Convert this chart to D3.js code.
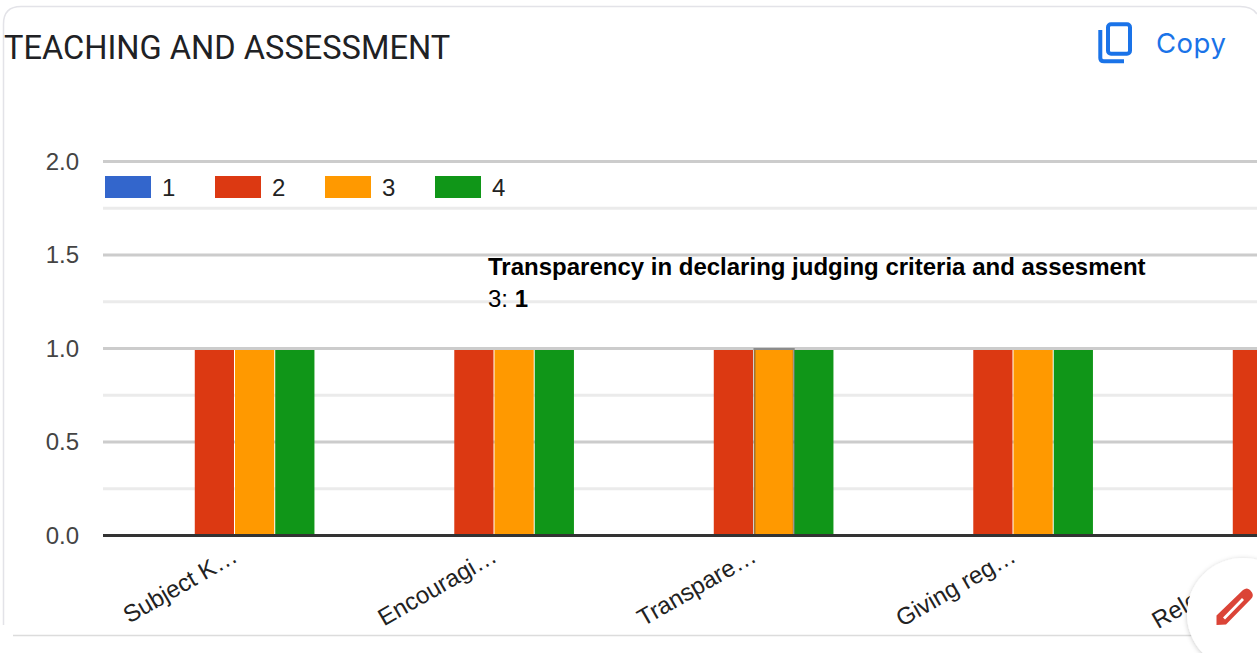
<!DOCTYPE html>
<html>
<head>
<meta charset="utf-8">
<style>
  html, body { margin: 0; padding: 0; background: #fff; overflow: hidden; }
  svg { display: block; }
</style>
<script src="https://cdn.jsdelivr.net/npm/d3@7"></script>
</head>
<body>
<div id="chart"></div>
<script>
var categories = ["Subject K…", "Encouragi…", "Transpare…", "Giving reg…", "Relevance…"];
var seriesNames = ["1", "2", "3", "4"];
var seriesColors = ["#3366cc", "#dc3912", "#ff9900", "#109618"];
var values1 = [0, 0, 0, 0, 0];
var values2 = [1, 1, 1, 1, 1];
var values3 = [1, 1, 1, 1, 1];
var values4 = [1, 1, 1, 1, 1];
var majorTicks = [0, 0.5, 1, 1.5, 2];
var minorTicks = [0.25, 0.75, 1.25, 1.75];
var tooltipTitle = "Transparency in declaring judging criteria and assesment";
var tooltipSeries = "3";
var tooltipCategory = 2;

var width = 1257,
    height = 653,
    plotLeft = 103,
    plotTop = 161.5,
    plotBottom = 535.5,
    barInset = 1.5; // bars start just under the gridline

var series = [values1, values2, values3, values4];

var svg = d3.select("#chart").append("svg")
    .attr("width", width)
    .attr("height", height);

var defs = svg.append("defs");
defs.append("clipPath").attr("id", "plot-clip")
  .append("rect")
    .attr("x", plotLeft)
    .attr("y", 0)
    .attr("width", width - plotLeft)
    .attr("height", height);

var shadow = defs.append("filter").attr("id", "fab-shadow")
    .attr("x", "-30%").attr("y", "-30%").attr("width", "160%").attr("height", "160%");
shadow.append("feDropShadow")
    .attr("dx", 0).attr("dy", 1)
    .attr("stdDeviation", 2.5)
    .attr("flood-color", "#000")
    .attr("flood-opacity", 0.22);

// card outline
svg.append("path")
    .attr("d", "M3.5,625 V24 Q3.5,6.5 21,6.5 H1240 Q1252,6.5 1257,14")
    .attr("fill", "none")
    .attr("stroke", "#e3e3e8")
    .attr("stroke-width", 1.5);
svg.append("line")
    .attr("x1", 13).attr("x2", 1257)
    .attr("y1", 635.5).attr("y2", 635.5)
    .attr("stroke", "#dcdcdc")
    .attr("stroke-width", 1.5);

svg.append("text")
    .attr("x", 4)
    .attr("y", 58.5)
    .attr("font-family", "Roboto")
    .attr("font-size", 32.6)
    .attr("fill", "#202124")
    .text("TEACHING AND ASSESSMENT");

// copy button
svg.append("rect")
    .attr("x", 1108)
    .attr("y", 24.3)
    .attr("width", 22)
    .attr("height", 29.5)
    .attr("rx", 3)
    .attr("fill", "none")
    .attr("stroke", "#1a73e8")
    .attr("stroke-width", 4);
svg.append("path")
    .attr("d", "M1100.3,30 V58 Q1100.3,61.300 1104,61.300 H1124")
    .attr("fill", "none")
    .attr("stroke", "#1a73e8")
    .attr("stroke-width", 4);
svg.append("text")
    .attr("x", 1156)
    .attr("y", 52.5)
    .attr("font-family", "Inter")
    .attr("font-size", 27.5)
    .attr("letter-spacing", 0.5)
    .attr("fill", "#1a73e8")
    .text("Copy");

var y = d3.scaleLinear()
    .domain([0, 2])
    .range([plotBottom, plotTop]);

var x = d3.scaleBand()
    .domain(categories)
    .range([105.25, 1402.75])
    .paddingInner(0.38)
    .paddingOuter(0.19);

var xSeries = d3.scaleBand()
    .domain(seriesNames)
    .range([0, x.bandwidth()]);

var plot = svg.append("g").attr("clip-path", "url(#plot-clip)");

plot.selectAll(".minor")
    .data(minorTicks)
  .enter().append("line")
    .attr("class", "minor")
    .attr("x1", plotLeft).attr("x2", width)
    .attr("y1", function(d) { return y(d); })
    .attr("y2", function(d) { return y(d); })
    .attr("stroke", "#ebebeb")
    .attr("stroke-width", 3);

plot.selectAll(".major")
    .data(majorTicks.filter(function(d) { return d > 0; }))
  .enter().append("line")
    .attr("class", "major")
    .attr("x1", plotLeft).attr("x2", width)
    .attr("y1", function(d) { return y(d); })
    .attr("y2", function(d) { return y(d); })
    .attr("stroke", "#cccccc")
    .attr("stroke-width", 3);

var groups = plot.selectAll(".series")
    .data(series)
  .enter().append("g")
    .attr("class", "series")
    .attr("fill", function(d, i) { return seriesColors[i]; });

groups.selectAll("rect")
    .data(function(d, i) {
      return d.map(function(v, j) { return { value: v, category: categories[j], name: seriesNames[i] }; });
    })
  .enter().append("rect")
    .attr("x", function(d) { return x(d.category) + xSeries(d.name); })
    .attr("y", function(d) { return y(d.value) + barInset; })
    .attr("width", xSeries.bandwidth() - 1)
    .attr("height", function(d) { return Math.max(0, y(0) - y(d.value) - barInset); });

// hovered bar outline
var hoverCategory = categories[tooltipCategory];
var hoverValue = series[seriesNames.indexOf(tooltipSeries)][tooltipCategory];
plot.append("rect")
    .attr("x", x(hoverCategory) + xSeries(tooltipSeries) + 0.5)
    .attr("y", y(hoverValue) + barInset - 1)
    .attr("width", xSeries.bandwidth() - 1)
    .attr("height", y(0) - y(hoverValue) - barInset + 1)
    .attr("fill", "none")
    .attr("stroke", "#555")
    .attr("stroke-opacity", 0.55)
    .attr("stroke-width", 2);

// baseline
plot.append("line")
    .attr("x1", plotLeft).attr("x2", width)
    .attr("y1", y(0)).attr("y2", y(0))
    .attr("stroke", "#333333")
    .attr("stroke-width", 3);

var yAxis = svg.append("g")
    .attr("transform", "translate(" + plotLeft + ",0)")
    .call(d3.axisLeft(y).tickValues(majorTicks).tickFormat(d3.format(".1f")).tickSize(0).tickPadding(24));
yAxis.select(".domain").remove();
yAxis.selectAll("text")
    .attr("font-family", "Liberation Sans")
    .attr("font-size", 24)
    .attr("fill", "#444444")
    .attr("dy", "0.33em");

var xAxis = svg.append("g")
    .attr("transform", "translate(0," + plotBottom + ")")
    .call(d3.axisBottom(x).tickSize(0));
xAxis.select(".domain").remove();
xAxis.selectAll("text")
    .attr("font-family", "Liberation Sans")
    .attr("font-size", 24)
    .attr("fill", "#222222")
    .attr("text-anchor", "end")
    .attr("x", 0)
    .attr("y", 0)
    .attr("dy", 0)
    .attr("transform", "translate(4,25) rotate(-30)");

// legend
var legendX = d3.scalePoint()
    .domain(seriesNames)
    .range([105, 435]);

var legend = svg.selectAll(".legend")
    .data(seriesNames)
  .enter().append("g")
    .attr("class", "legend")
    .attr("transform", function(d) { return "translate(" + legendX(d) + ",176)"; });

legend.append("rect")
    .attr("width", 46)
    .attr("height", 22)
    .attr("fill", function(d, i) { return seriesColors[i]; });

legend.append("text")
    .attr("x", 57)
    .attr("y", 19.5)
    .attr("font-family", "Liberation Sans")
    .attr("font-size", 24)
    .attr("fill", "#222222")
    .text(function(d) { return d; });

// tooltip
svg.append("text")
    .attr("x", 488)
    .attr("y", 275)
    .attr("font-family", "Liberation Sans")
    .attr("font-size", 24)
    .attr("font-weight", "bold")
    .attr("fill", "#000")
    .text(tooltipTitle);

var tipLine = svg.append("text")
    .attr("x", 488)
    .attr("y", 307)
    .attr("font-family", "Liberation Sans")
    .attr("font-size", 24)
    .attr("fill", "#000");
tipLine.append("tspan").text(tooltipSeries + ": ");
tipLine.append("tspan").attr("font-weight", "bold").text(hoverValue);

// edit button
svg.append("circle")
    .attr("cx", 1243)
    .attr("cy", 614)
    .attr("r", 56)
    .attr("fill", "#fff")
    .attr("filter", "url(#fab-shadow)");
svg.append("path")
    .attr("d", "M1216.500,625 V615.500 L1243,590 Q1247,587 1250,590 L1252,592.500 Q1254,596 1251,599 L1226,624.500 Z M1223,617.500 L1225,619.500 L1244,600 L1242,598 Z")
    .attr("fill", "#db4437")
    .attr("fill-rule", "evenodd");
</script>
</body>
</html>
